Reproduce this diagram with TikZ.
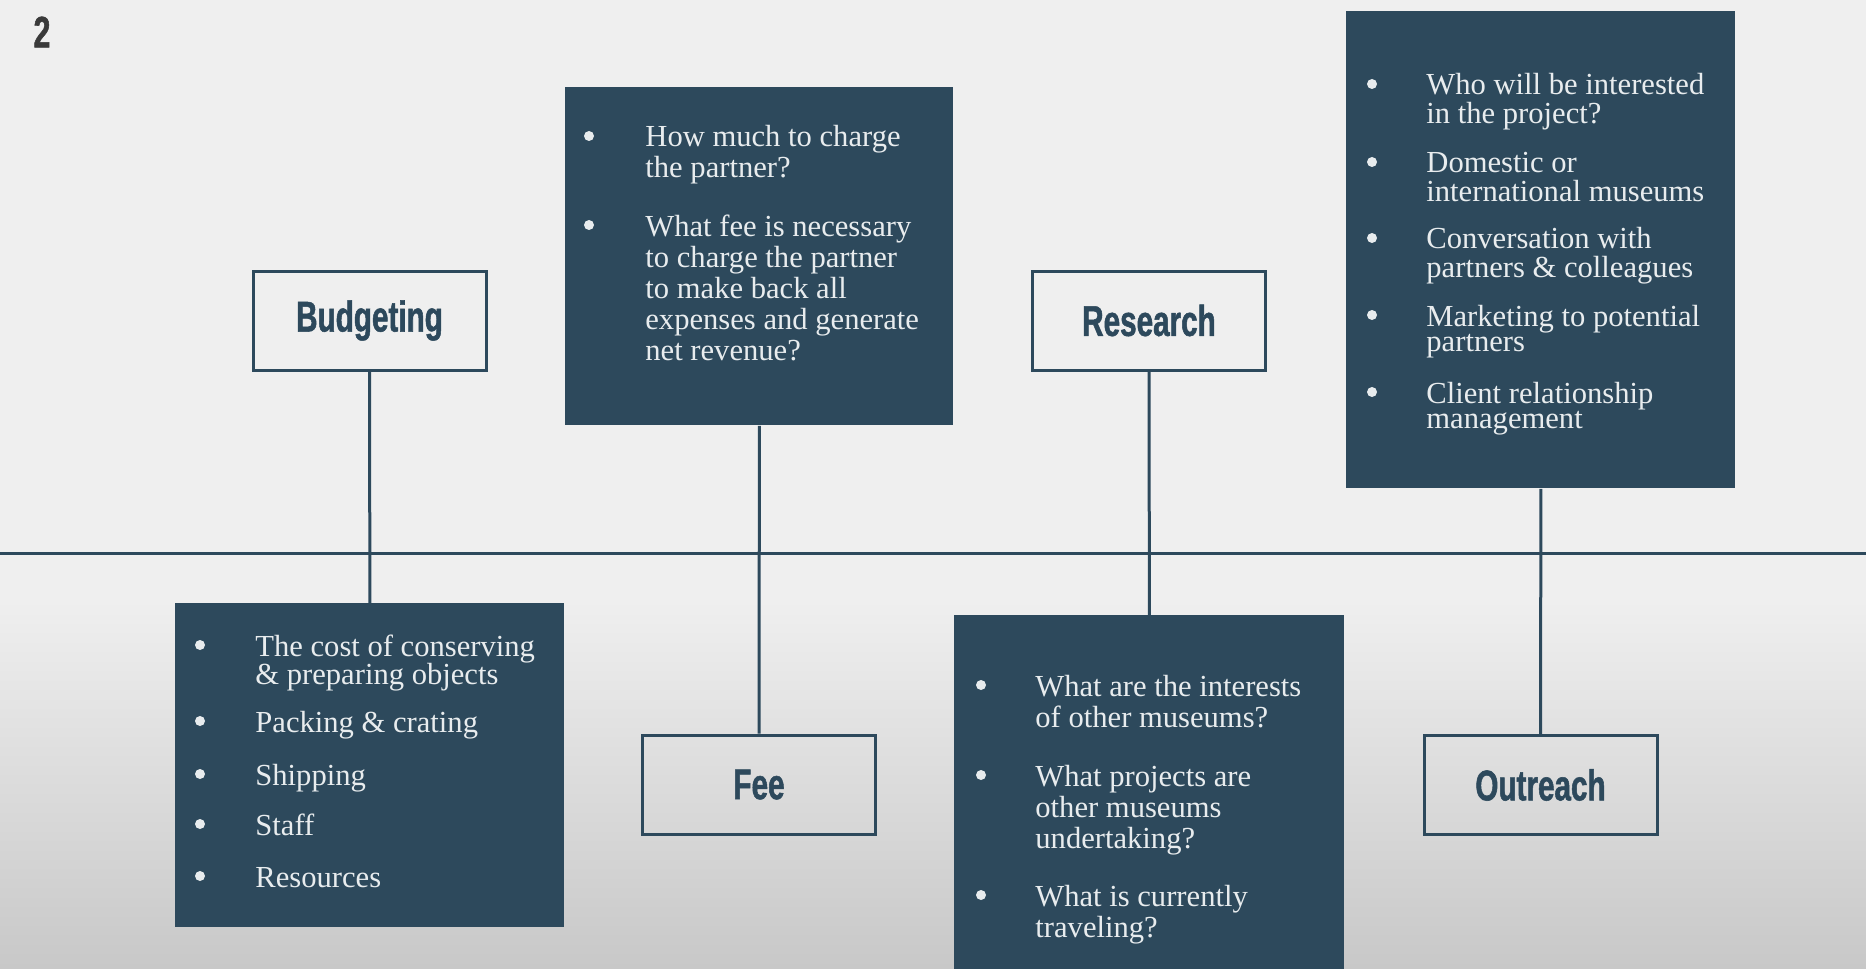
\documentclass[tikz,border=0pt]{standalone}
\usepackage{fontspec}
\setmainfont{Liberation Serif}
\newfontfamily\condfont[FakeStretch=0.69,FakeBold=1.2]{Liberation Sans}
\definecolor{navy}{RGB}{45,73,92}
\definecolor{bgtop}{RGB}{239,239,239}
\definecolor{bgbot}{RGB}{200,200,200}
\definecolor{itemtxt}{RGB}{232,236,238}
\definecolor{numgray}{RGB}{58,58,58}
\newcommand{\lines}[1]{\begin{tabular}[t]{@{}l@{}}#1\end{tabular}}
\begin{document}
\begin{tikzpicture}[x=0.5pt,y=-0.5pt,
  lbl/.style={draw=navy, line width=1.5pt, minimum width=116.5pt, minimum height=49.5pt, inner sep=0pt,
    font=\condfont\bfseries\fontsize{21.5}{25}\selectfont, text=navy},
  darkbox/.style={fill=navy, draw=none, inner sep=0pt, anchor=north west},
  conn/.style={draw=navy, line width=1.5pt},
  itm/.style={anchor=base west, inner sep=0pt, text=itemtxt, font=\fontsize{15.3}{15.5}\selectfont},
  itmt/.style={itm, font=\fontsize{15.3}{12.8}\selectfont},
  bul/.style={circle, fill=itemtxt, inner sep=0pt, minimum size=5pt}
]
\useasboundingbox (0,0) rectangle (1866,968);
\fill[bgtop] (0,0) rectangle (1866,968);
\shade[top color=bgtop, bottom color=bgbot] (0,600) rectangle (1866,968);

% page number
\node[font=\condfont\bfseries\fontsize{22}{26}\selectfont, text=numgray] (num) at (42,32) {2};

% horizontal axis
\coordinate (hl) at (0,553);
\coordinate (hr) at (1866,553);
\draw[conn] (hl) -- (hr);

% dark boxes
\node[darkbox, minimum width=194pt, minimum height=169pt] (feeq) at (565,87) {};
\node[darkbox, minimum width=194.5pt, minimum height=162pt] (budq) at (175,603) {};
\node[darkbox, minimum width=195pt, minimum height=180pt] (resq) at (954,615) {};
\node[darkbox, minimum width=194.5pt, minimum height=238.5pt] (outq) at (1346,11) {};

% labels
\node[lbl] (budget) at (369.5,320.5) {Budgeting};
\node[lbl] (research) at (1149,320.5) {Research};
\node[lbl] (fee) at (759,784.5) {Fee};
\node[lbl] (outreach) at (1540.5,785) {Outreach};

% connectors
\draw[conn] (budget.south) -- (budq.north);
\draw[conn] (feeq.south) -- (fee.north);
\draw[conn] (research.south) -- (resq.north);
\draw[conn] (outq.south) -- (outreach.north);

% Fee items
\node[bul] (fb1) at (589,136) {};
\node[itm] (ft1) at (645,147) {\lines{How much to charge\\the partner?}};
\node[bul] (fb2) at (589,225) {};
\node[itm] (ft2) at (645,236) {\lines{What fee is necessary\\to charge the partner\\to make back all\\expenses and generate\\net revenue?}};

% Budgeting items
\node[bul] (bb1) at (200,645) {};
\node[itmt] (bt1) at (255,656) {\lines{The cost of conserving\\\& preparing objects}};
\node[bul] (bb2) at (200,721) {};
\node[itmt] (bt2) at (255,732) {Packing \& crating};
\node[bul] (bb3) at (200,774) {};
\node[itmt] (bt3) at (255,785) {Shipping};
\node[bul] (bb4) at (200,824) {};
\node[itmt] (bt4) at (255,835) {Staff};
\node[bul] (bb5) at (200,876) {};
\node[itmt] (bt5) at (255,887) {Resources};

% Research items
\node[bul] (rb1) at (981,685) {};
\node[itm] (rt1) at (1035,696) {\lines{What are the interests\\of other museums?}};
\node[bul] (rb2) at (981,775) {};
\node[itm] (rt2) at (1035,786) {\lines{What projects are\\other museums\\undertaking?}};
\node[bul] (rb3) at (981,895) {};
\node[itm] (rt3) at (1035,906) {\lines{What is currently\\traveling?}};

% Outreach items
\node[bul] (ob1) at (1372,84) {};
\node[itmt] (ot1) at (1426,95) {\lines{Who will be interested\\in the project?}};
\node[bul] (ob2) at (1372,162) {};
\node[itmt] (ot2) at (1426,173) {\lines{Domestic or\\international museums}};
\node[bul] (ob3) at (1372,238) {};
\node[itmt] (ot3) at (1426,249) {\lines{Conversation with\\partners \& colleagues}};
\node[bul] (ob4) at (1372,315) {};
\node[itmt] (ot4) at (1426,326) {\lines{Marketing to potential\\partners}};
\node[bul] (ob5) at (1372,392) {};
\node[itmt] (ot5) at (1426,403) {\lines{Client relationship\\management}};
\end{tikzpicture}
\end{document}
